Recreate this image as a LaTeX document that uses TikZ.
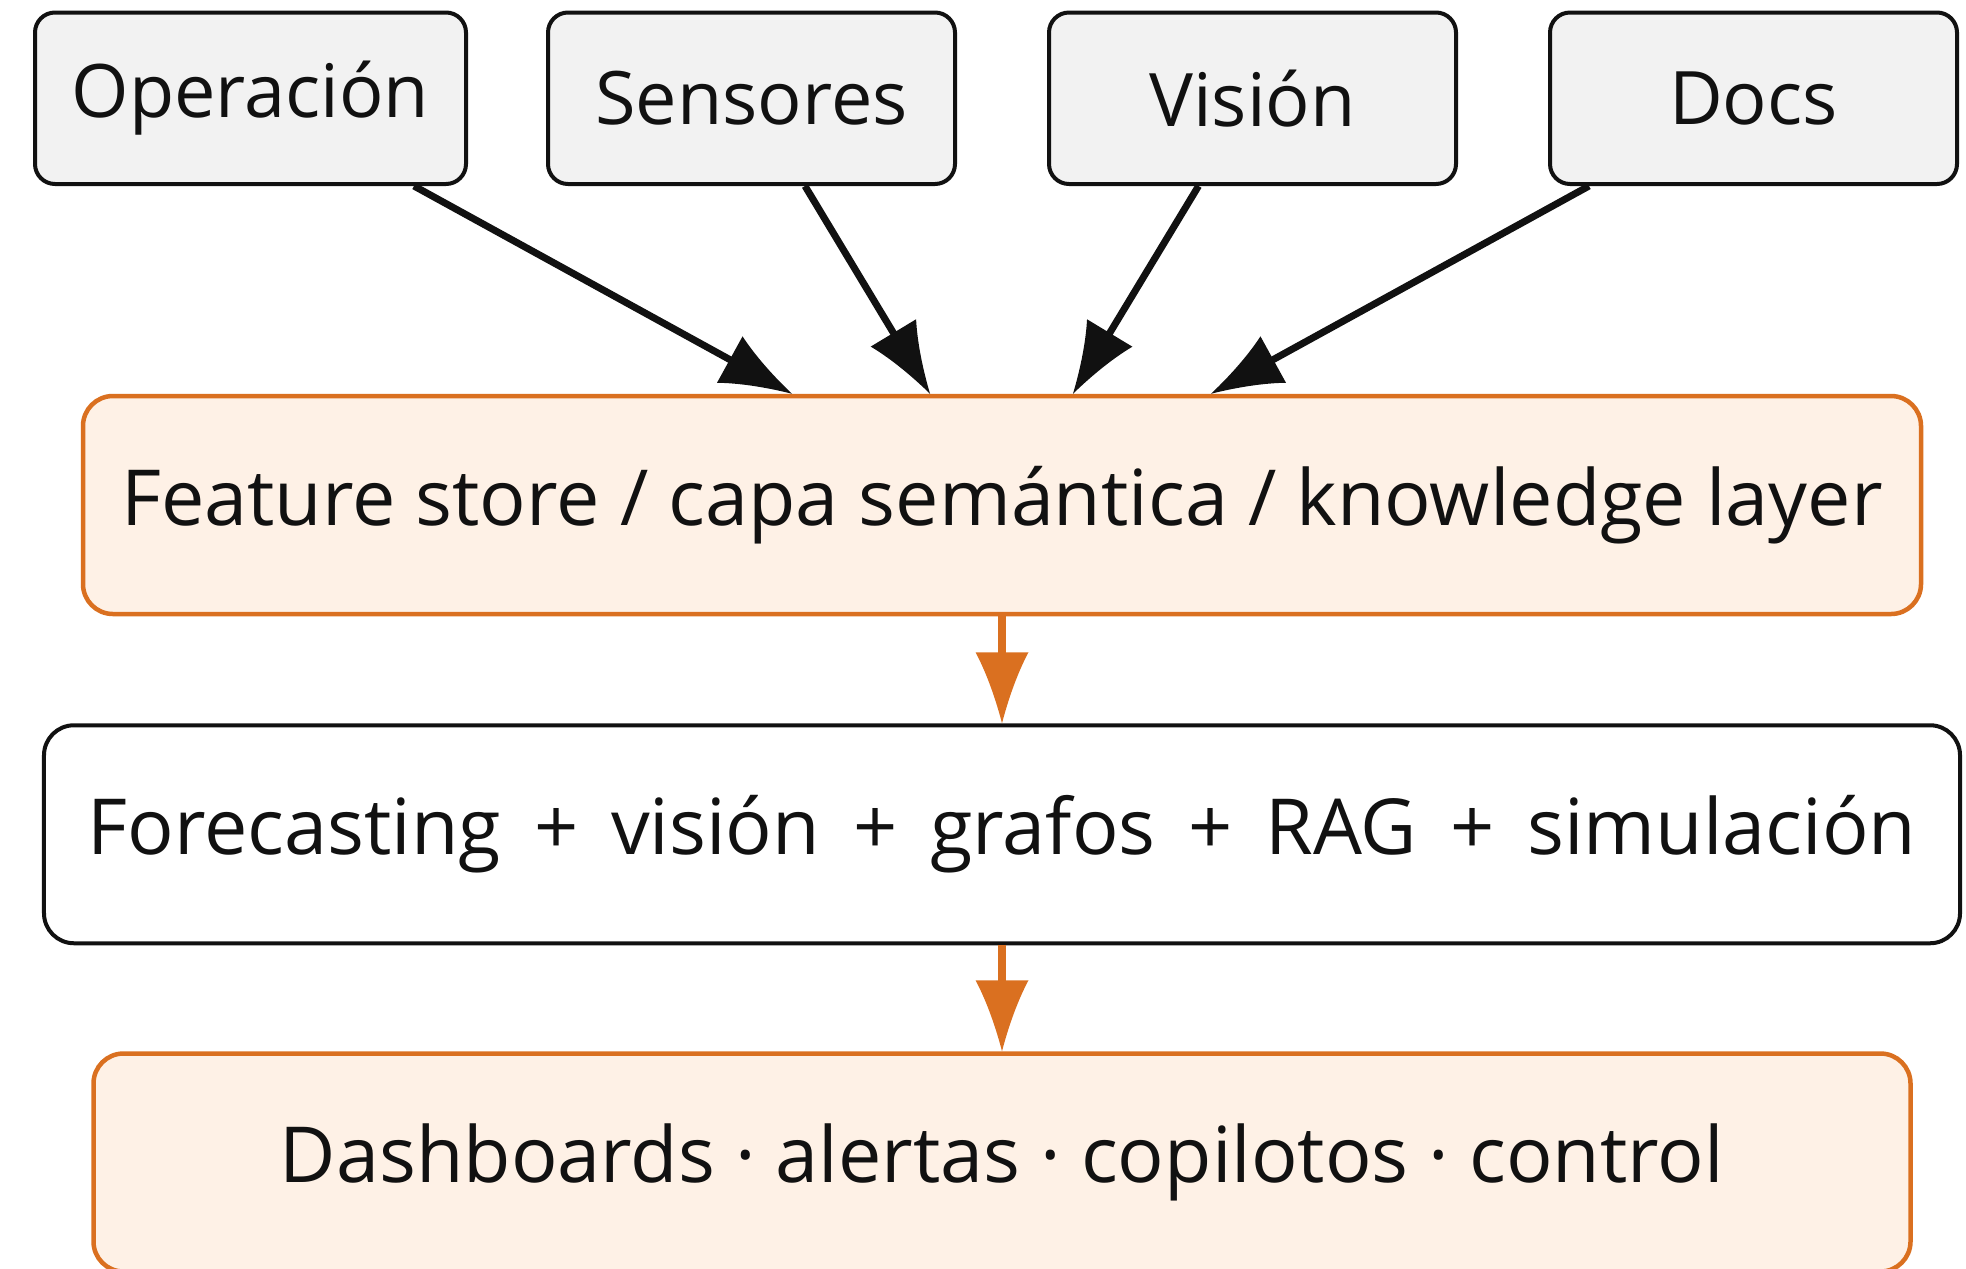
\documentclass[tikz,border=0pt]{standalone}
\usepackage{fontspec}
\setmainfont{Open Sans}
\usepackage{tikz}
\usetikzlibrary{arrows.meta,positioning}

\definecolor{ink}{HTML}{111111}
\definecolor{srcfill}{HTML}{F2F2F2}
\definecolor{accent}{HTML}{DA7020}
\definecolor{accentfill}{HTML}{FEF1E6}

% filled head with slightly hollow flanks
\pgfdeclarearrow{
  name = Spike,
  parameters = {\the\pgfarrowlength,\the\pgfarrowwidth},
  setup code = {
    \pgfarrowssettipend{0pt}
    \pgfarrowssetlineend{-.5\pgfarrowlength}
    \pgfarrowssetbackend{-\pgfarrowlength}
    \pgfarrowshullpoint{0pt}{0pt}
    \pgfarrowsupperhullpoint{-\pgfarrowlength}{.5\pgfarrowwidth}
    \pgfarrowssavethe\pgfarrowlength
    \pgfarrowssavethe\pgfarrowwidth
  },
  drawing code = {
    \pgfpathmoveto{\pgfqpoint{0pt}{0pt}}
    \pgfpathcurveto{\pgfqpoint{-.4\pgfarrowlength}{.14\pgfarrowwidth}}%
      {\pgfqpoint{-.75\pgfarrowlength}{.32\pgfarrowwidth}}%
      {\pgfqpoint{-\pgfarrowlength}{.5\pgfarrowwidth}}
    \pgfpathlineto{\pgfqpoint{-\pgfarrowlength}{-.5\pgfarrowwidth}}
    \pgfpathcurveto{\pgfqpoint{-.75\pgfarrowlength}{-.32\pgfarrowwidth}}%
      {\pgfqpoint{-.4\pgfarrowlength}{-.14\pgfarrowwidth}}%
      {\pgfqpoint{0pt}{0pt}}
    \pgfpathclose
    \pgfusepathqfill
  },
  defaults = {length = 1.42cm, width = 1.06cm}
}

\begin{document}
\begin{tikzpicture}[->,>={Spike}
	,node distance=1.80cm
	,text=ink]
  \tikzstyle{source}
  =[draw=ink, fill=srcfill, line width=0.08cm, rounded corners=0.4cm,
    minimum width=8.14cm, minimum height=3.43cm,
    font=\fontsize{42}{50}\selectfont]
  \tikzstyle{layer}
  =[draw=accent, fill=accentfill, line width=0.09cm, rounded corners=0.6cm,
    minimum height=4.36cm, font=\fontsize{44}{53}\selectfont]
  \tikzstyle{models}=[layer, draw=ink, fill=white, line width=0.08cm]
  \tikzstyle{feed}=[color=ink, line width=0.14cm]
  \tikzstyle{flow}=[color=accent, line width=0.17cm]

  \useasboundingbox (0,0) rectangle (39.32,-25.36);

  % 4 sources
  \node[source, minimum width=8.62cm] (op) at (5.01,-1.965) {Operación};
  \node[source, right=1.56cm of op] (sen) {Sensores};
  \node[source, right=of sen] (vis) {Visión};
  \node[source, right=of vis] (docs) {Docs};

  % 3 stacked layers
  \node[layer, minimum width=36.76cm] (feat) at (20.04,-10.10)
    {Feature store / capa semántica / knowledge layer};
  \node[models, minimum width=38.32cm, below=2.14cm of feat] (models)
    {Forecasting \,+\, visión \,+\, grafos \,+\, RAG \,+\, simulación};
  \node[layer, minimum width=36.34cm, below=2.12cm of models] (apps)
    {Dashboards · alertas · copilotos · control};

  % sources into the feature layer
  \draw [feed] ([xshift=3.27cm]op.south)    -- ([xshift=-4.2cm]feat.north);
  \draw [feed] ([xshift=1.07cm]sen.south)   -- ([xshift=-1.44cm]feat.north);
  \draw [feed] ([xshift=-1.08cm]vis.south)  -- ([xshift=1.42cm]feat.north);
  \draw [feed] ([xshift=-3.29cm]docs.south) -- ([xshift=4.18cm]feat.north);
  % down the stack
  \draw [flow] (feat)   -- (models);
  \draw [flow] (models) -- (apps);

\end{tikzpicture}
\end{document}
